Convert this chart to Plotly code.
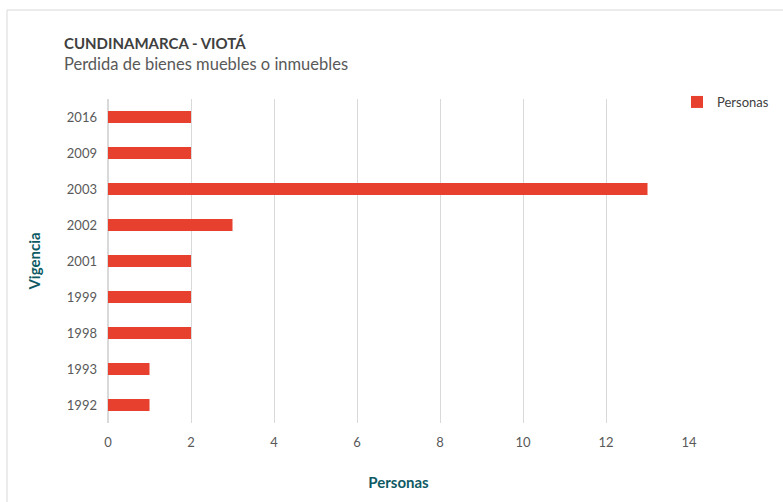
import plotly.graph_objects as go

years = ["1992", "1993", "1998", "1999", "2001", "2002", "2003", "2009", "2016"]
personas = [1, 1, 2, 2, 2, 3, 13, 2, 2]
x_ticks = [0, 2, 4, 6, 8, 10, 12, 14]

FONT = "Lato"
W, H = 783, 502
L, R, T, B = 108, 94, 99, 79
pw, ph = W - L - R, H - T - B

def px(x):
    return (x - L) / pw

def py(y):
    return (H - B - y) / ph

fig = go.Figure()
fig.add_trace(go.Bar(
    x=personas, y=years, orientation="h", name="Personas",
    marker=dict(color="#E8402F", line=dict(width=0)),
    width=0.34, showlegend=True,
))

fig.update_layout(
    width=W, height=H,
    margin=dict(l=L, r=R, t=T, b=B, pad=0, autoexpand=False),
    paper_bgcolor="white", plot_bgcolor="white",
    font=dict(family=FONT, size=13, color="#595959"),
    showlegend=True,
    legend=dict(xref="container", yref="container", x=677 / W, y=1 - 87 / H,
                xanchor="left", yanchor="top",
                font=dict(family=FONT, size=13, color="#404040"),
                bgcolor="rgba(0,0,0,0)", itemwidth=30, tracegroupgap=0),
    xaxis=dict(range=[0, 14], tickvals=x_ticks, showgrid=True, gridcolor="#D9D9D9",
               gridwidth=1, zeroline=True, zerolinecolor="#D9D9D9", showline=False,
               ticks="", tickfont=dict(size=13, color="#595959"), ticklabelstandoff=10,
               title=dict(text="<b>Personas</b>", font=dict(size=15, color="#0E5A64"), standoff=28)),
    yaxis=dict(type="category", categoryorder="array", categoryarray=years,
               showgrid=False, zeroline=False, showline=False, ticks="",
               tickfont=dict(size=13, color="#595959"), ticklabelstandoff=10,
               title=dict(text="<b>Vigencia</b>", font=dict(size=15, color="#0E5A64"), standoff=22)),
    bargap=0.6,
)

fig.add_annotation(text="<b>CUNDINAMARCA - VIOTÁ</b>", xref="paper", yref="paper",
                   x=px(62), y=py(43), xanchor="left", yanchor="middle", showarrow=False,
                   font=dict(family=FONT, size=15, color="#404040"))
fig.add_annotation(text="Perdida de bienes muebles o inmuebles", xref="paper", yref="paper",
                   x=px(62), y=py(64), xanchor="left", yanchor="middle", showarrow=False,
                   font=dict(family=FONT, size=16.5, color="#595959"))

fig.add_shape(type="rect", xref="paper", yref="paper",
              x0=px(7), x1=px(800), y0=py(520), y1=py(10),
              line=dict(color="#D9D9D9", width=1), fillcolor="rgba(0,0,0,0)", layer="below")

fig.write_html("out.html", config={"displayModeBar": False},
               post_script="document.body.style.margin='0';")
